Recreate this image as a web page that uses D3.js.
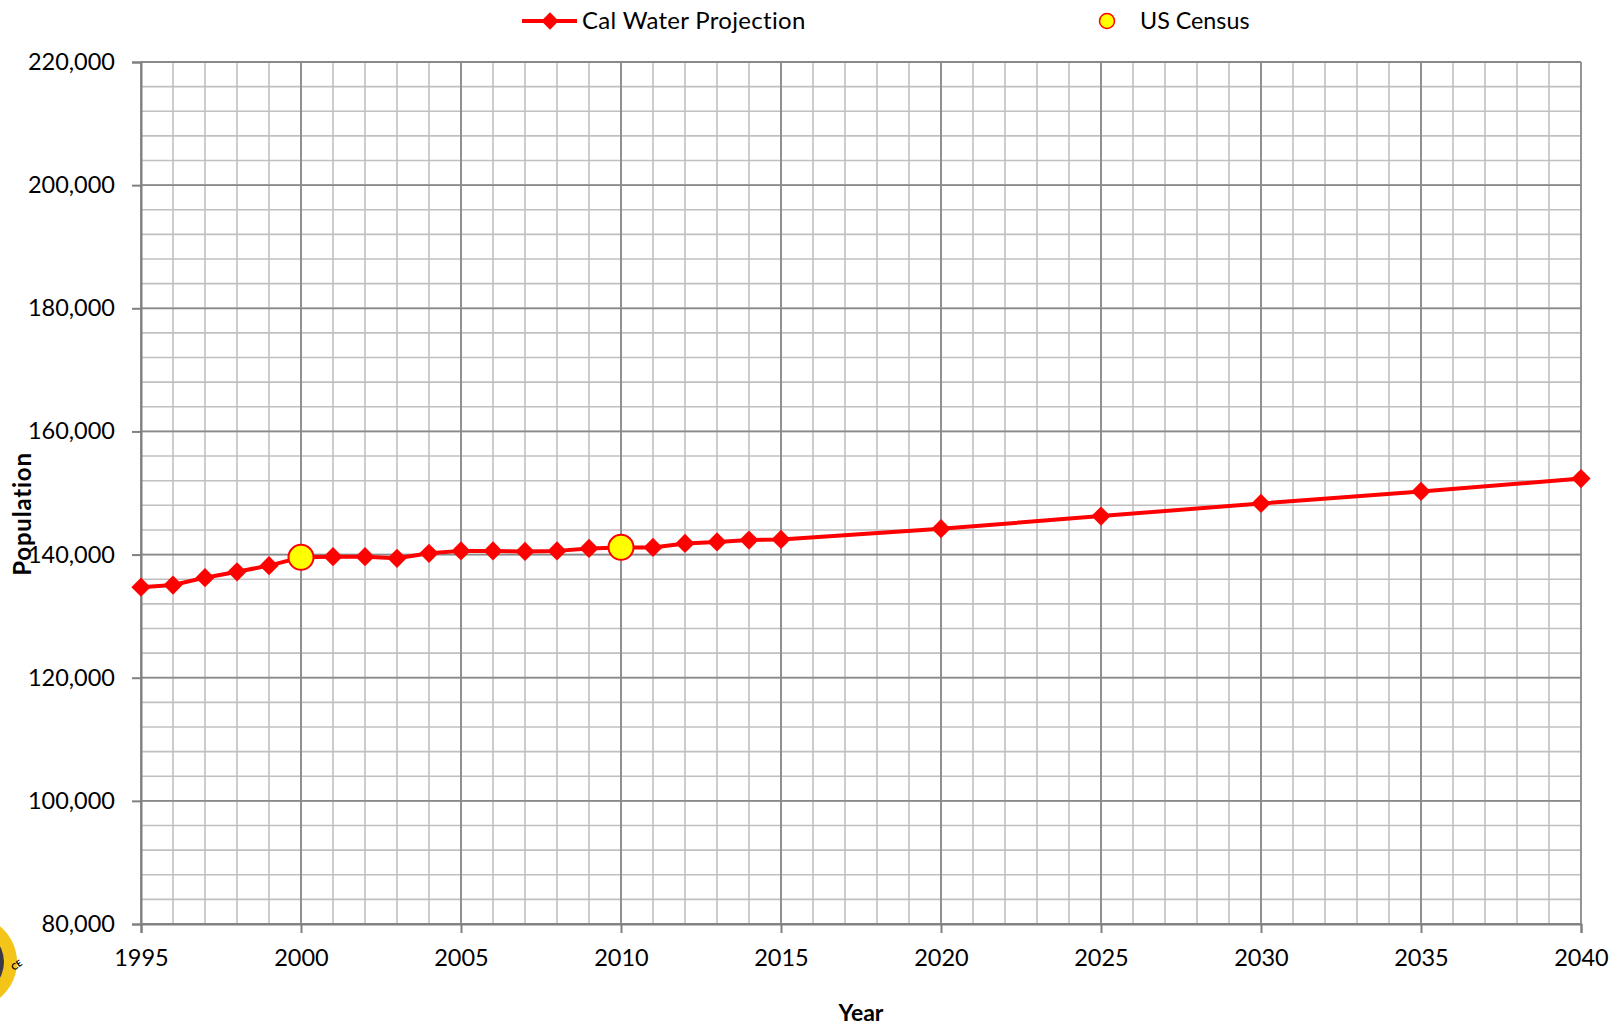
<!DOCTYPE html>
<html>
<head>
<meta charset="utf-8">
<script src="https://cdn.jsdelivr.net/npm/d3@7"></script>
<style>
  html, body { margin: 0; padding: 0; background: #ffffff; }
  svg { display: block; }
  text { font-family: Lato, "Noto Sans", sans-serif; fill: #000; }
</style>
</head>
<body>
<svg id="chart" width="1620" height="1029"></svg>
<script>
// ---- data ----
const projectionYears = [1995,1996,1997,1998,1999,2000,2001,2002,2003,2004,2005,2006,2007,2008,2009,2010,2011,2012,2013,2014,2015,2020,2025,2030,2035,2040];
const projectionValues = [134700,135050,136250,137200,138200,139550,139650,139650,139400,140200,140600,140600,140500,140600,141000,141150,141150,141800,142050,142350,142450,144200,146250,148300,150250,152350];
const censusYears = [2000, 2010];
const censusValues = [139560, 141180];
const xTickLabels = ["1995","2000","2005","2010","2015","2020","2025","2030","2035","2040"];
const yTickLabels = ["80,000","100,000","120,000","140,000","160,000","180,000","200,000","220,000"];
const seriesNames = ["Cal Water Projection", "US Census"];

// ---- layout ----
const svg = d3.select("#chart");
const pLeft = 141, pRight = 1581, pTop = 62, pBottom = 924;
const FONT = "Lato, 'Noto Sans', sans-serif";

const x = d3.scaleLinear().domain([1995, 2040]).range([pLeft, pRight]);
const y = d3.scaleLinear().domain([80000, 220000]).range([pBottom, pTop]);

const grid = svg.append("g");
// minor vertical (each year)
grid.selectAll("line.vmin").data(d3.range(1996, 2040)).enter().append("line")
  .attr("x1", d => x(d)).attr("x2", d => x(d)).attr("y1", pTop).attr("y2", pBottom)
  .attr("stroke", "#c0c0c0").attr("stroke-width", 1.6);
// minor horizontal (every 4000)
grid.selectAll("line.hmin").data(d3.range(84000, 220000, 4000)).enter().append("line")
  .attr("x1", pLeft).attr("x2", pRight).attr("y1", d => y(d)).attr("y2", d => y(d))
  .attr("stroke", "#c0c0c0").attr("stroke-width", 1.6);
// major vertical
grid.selectAll("line.vmaj").data(xTickLabels.map(Number)).enter().append("line")
  .attr("x1", d => x(d)).attr("x2", d => x(d)).attr("y1", pTop).attr("y2", pBottom)
  .attr("stroke", "#8a8a8a").attr("stroke-width", 1.8);
// major horizontal
grid.selectAll("line.hmaj").data(yTickLabels.map(s => +s.replace(/,/g, ""))).enter().append("line")
  .attr("x1", pLeft).attr("x2", pRight).attr("y1", d => y(d)).attr("y2", d => y(d))
  .attr("stroke", "#8a8a8a").attr("stroke-width", 1.8);

// axes
const xAxis = d3.axisBottom(x).tickValues(xTickLabels.map(Number)).tickFormat((d, i) => xTickLabels[i])
  .tickSize(9).tickPadding(16);
const gx = svg.append("g").attr("transform", `translate(0,${pBottom})`).call(xAxis);
gx.select(".domain").attr("stroke", "#808080").attr("stroke-width", 2);
gx.selectAll(".tick line").attr("stroke", "#808080").attr("stroke-width", 2);
gx.selectAll(".tick text").attr("font-size", 23.5).attr("font-family", FONT).attr("fill", "#000");

const yAxis = d3.axisLeft(y).tickValues(yTickLabels.map(s => +s.replace(/,/g, ""))).tickFormat((d, i) => yTickLabels[i])
  .tickSize(9).tickPadding(17);
const gy = svg.append("g").attr("transform", `translate(${pLeft},0)`).call(yAxis);
gy.select(".domain").attr("stroke", "#808080").attr("stroke-width", 2);
gy.selectAll(".tick line").attr("stroke", "#808080").attr("stroke-width", 2);
gy.selectAll(".tick text").attr("font-size", 23.5).attr("font-family", FONT).attr("fill", "#000");

// axis titles
svg.append("text").attr("x", 861).attr("y", 1021).attr("text-anchor", "middle")
  .attr("font-size", 23).attr("font-weight", "bold").text("Year");
svg.append("text").attr("transform", "translate(31,514) rotate(-90)").attr("text-anchor", "middle")
  .attr("font-size", 24).attr("font-weight", "bold").attr("letter-spacing", 0.8).text("Population");

// projection line
const proj = projectionYears.map((yr, i) => ({ yr, v: projectionValues[i] }));
const line = d3.line().x(d => x(d.yr)).y(d => y(d.v));
svg.append("path").datum(proj).attr("d", line)
  .attr("fill", "none").attr("stroke", "#ff0000").attr("stroke-width", 4).attr("stroke-linejoin", "round");

svg.selectAll("path.pt").data(proj).enter().append("path")
  .attr("class", "pt")
  .attr("d", d3.symbol().type(d3.symbolSquare).size(185))
  .attr("transform", d => `translate(${x(d.yr)},${y(d.v)}) rotate(45)`)
  .attr("fill", "#ff0000");

// census
const cen = censusYears.map((yr, i) => ({ yr, v: censusValues[i] }));
svg.selectAll("circle.cen").data(cen).enter().append("circle")
  .attr("class", "cen")
  .attr("cx", d => x(d.yr)).attr("cy", d => y(d.v)).attr("r", 12.5)
  .attr("fill", "#ffff00").attr("stroke", "#ff0000").attr("stroke-width", 2);

// legend
const lg = svg.append("g");
lg.append("line").attr("x1", 522).attr("x2", 577).attr("y1", 21).attr("y2", 21)
  .attr("stroke", "#ff0000").attr("stroke-width", 4);
lg.append("path").attr("d", d3.symbol().type(d3.symbolSquare).size(150))
  .attr("transform", "translate(550,21) rotate(45)").attr("fill", "#ff0000");
lg.append("text").attr("x", 582).attr("y", 29).attr("font-size", 24).attr("letter-spacing", 0.3).text(seriesNames[0]);
lg.append("circle").attr("cx", 1107).attr("cy", 21).attr("r", 7.5)
  .attr("fill", "#ffff00").attr("stroke", "#ff0000").attr("stroke-width", 1.5);
lg.append("text").attr("x", 1140).attr("y", 29).attr("font-size", 23.3).text(seriesNames[1]);

// partial logo at bottom-left edge
const logo = svg.append("g").attr("transform", "translate(-29,962)");
logo.append("circle").attr("r", 46).attr("fill", "#f3c519");
logo.append("circle").attr("r", 33).attr("fill", "#3a3a46");
logo.append("text").attr("x", 30).attr("y", 32).attr("font-size", 9).attr("font-weight", "bold")
  .attr("fill", "#333").attr("transform", "rotate(-35)").text("CE");
</script>
</body>
</html>
